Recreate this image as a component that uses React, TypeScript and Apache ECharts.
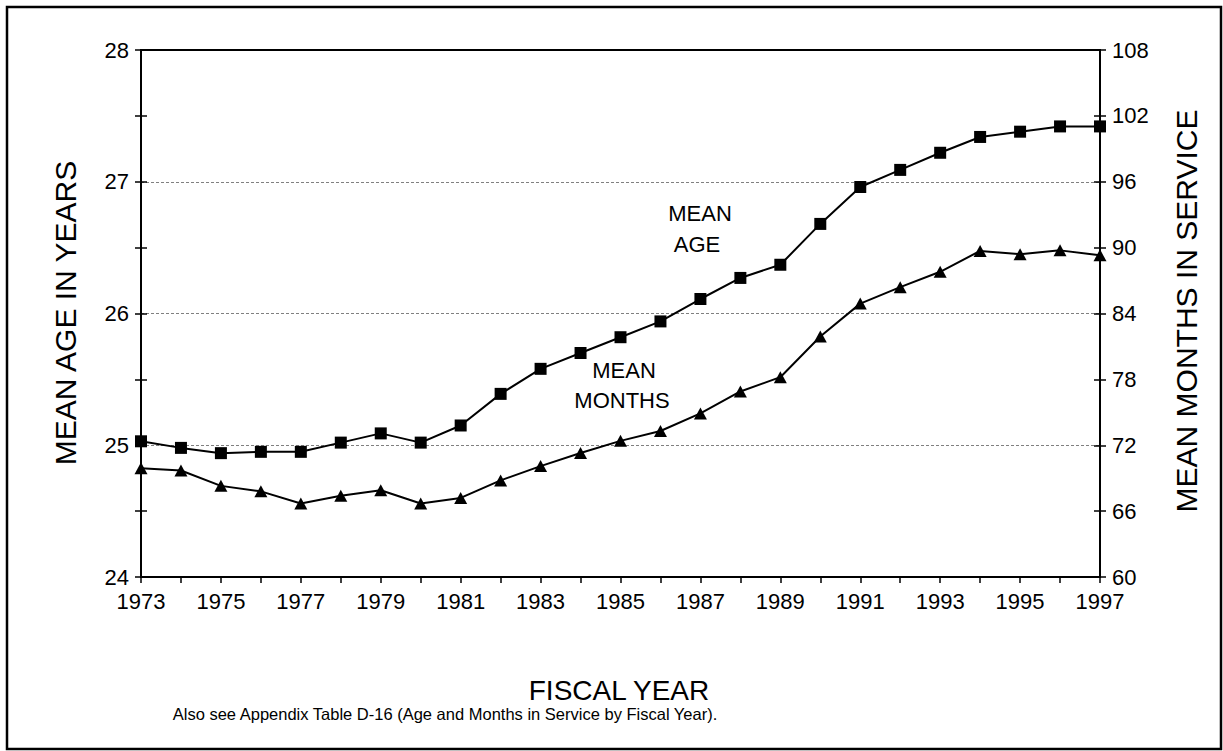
import React, { useEffect, useRef } from "react";
import * as echarts from "echarts";

const years = [1973, 1974, 1975, 1976, 1977, 1978, 1979, 1980, 1981, 1982, 1983, 1984, 1985, 1986, 1987, 1988, 1989, 1990, 1991, 1992, 1993, 1994, 1995, 1996, 1997];
const meanAge = [25.03, 24.98, 24.94, 24.95, 24.95, 25.02, 25.09, 25.02, 25.15, 25.39, 25.58, 25.7, 25.82, 25.94, 26.11, 26.27, 26.37, 26.68, 26.96, 27.09, 27.22, 27.34, 27.38, 27.42, 27.42];
const meanMonths = [69.9, 69.7, 68.3, 67.8, 66.7, 67.4, 67.9, 66.7, 67.2, 68.8, 70.1, 71.3, 72.4, 73.3, 74.9, 76.9, 78.2, 81.9, 84.9, 86.4, 87.8, 89.7, 89.4, 89.75, 89.3];

const FONT = "'Liberation Sans', Arial, Helvetica, sans-serif";

export default function App() {
  const ref = useRef<HTMLDivElement>(null);
  useEffect(() => {
    if (!ref.current) return;
    const chart = echarts.init(ref.current, null, { renderer: "svg" });
    const leftBase = {
      type: "value",
      position: "left",
      min: 24,
      max: 28,
      interval: 1,
      axisLine: { show: true, lineStyle: { color: "#000", width: 2 } },
    };
    const rightBase = {
      type: "value",
      position: "right",
      min: 60,
      max: 108,
      interval: 6,
      axisLine: { show: true, lineStyle: { color: "#000", width: 2 } },
    };
    chart.setOption({
      animation: false,
      backgroundColor: "#fff",
      textStyle: { fontFamily: FONT },
      grid: {
        left: 141,
        right: 123,
        top: 50,
        bottom: 174,
        show: true,
        borderColor: "#000",
        borderWidth: 2,
        backgroundColor: "transparent",
      },
      xAxis: {
        type: "value",
        min: 1973,
        max: 1997,
        interval: 1,
        axisLine: { show: true, lineStyle: { color: "#000", width: 2 } },
        axisTick: { show: true, length: 6, lineStyle: { color: "#000", width: 1.5 } },
        axisLabel: {
          color: "#000",
          fontSize: 22,
          fontFamily: FONT,
          margin: 13,
          formatter: (v: number) => ((v - 1973) % 2 === 0 ? String(v) : ""),
        },
        splitLine: { show: false },
      },
      yAxis: [
        {
          ...leftBase,
          axisTick: { show: true, length: 6, lineStyle: { color: "#000", width: 1.5 } },
          minorTick: { show: true, splitNumber: 2, length: 6, lineStyle: { color: "#000", width: 1.5 } },
          axisLabel: { color: "#000", fontSize: 22, fontFamily: FONT, margin: 12 },
          splitLine: {
            show: true,
            showMinLine: false,
            showMaxLine: false,
            lineStyle: { color: "#808080", width: 1, type: [3, 2] },
          },
        },
        {
          ...rightBase,
          axisTick: { show: true, length: 6, lineStyle: { color: "#000", width: 1.5 } },
          axisLabel: { color: "#000", fontSize: 22, fontFamily: FONT, margin: 12 },
          splitLine: { show: false },
        },
        {
          ...leftBase,
          axisTick: { show: true, inside: true, length: 6, lineStyle: { color: "#000", width: 1.5 } },
          minorTick: { show: true, splitNumber: 2, length: 6, lineStyle: { color: "#000", width: 1.5 } },
          axisLabel: { show: false },
          splitLine: { show: false },
        },
        {
          ...rightBase,
          axisTick: { show: true, inside: true, length: 6, lineStyle: { color: "#000", width: 1.5 } },
          axisLabel: { show: false },
          splitLine: { show: false },
        },
      ],
      series: [
        {
          name: "Mean Age",
          type: "line",
          yAxisIndex: 0,
          data: years.map((y, i) => [y, meanAge[i]]),
          symbol: "rect",
          symbolSize: 12,
          lineStyle: { color: "#000", width: 2 },
          itemStyle: { color: "#000" },
          z: 5,
        },
        {
          name: "Mean Months",
          type: "line",
          yAxisIndex: 1,
          data: years.map((y, i) => [y, meanMonths[i]]),
          symbol: "triangle",
          symbolSize: [13, 12],
          lineStyle: { color: "#000", width: 2 },
          itemStyle: { color: "#000" },
          z: 5,
        },
      ],
      graphic: [
        {
          type: "rect",
          shape: { x: 7, y: 7, width: 1214, height: 742 },
          style: { fill: "none", stroke: "#000", lineWidth: 2.5 },
          silent: true,
        },
        {
          type: "text",
          x: 65,
          y: 313,
          rotation: Math.PI / 2,
          style: { text: "MEAN AGE IN YEARS", fontSize: 30, fontFamily: FONT, fill: "#000", align: "center", verticalAlign: "middle" },
        },
        {
          type: "text",
          x: 1186,
          y: 311,
          rotation: Math.PI / 2,
          style: { text: "MEAN MONTHS IN SERVICE", fontSize: 30, fontFamily: FONT, fill: "#000", align: "center", verticalAlign: "middle" },
        },
        {
          type: "text",
          x: 619,
          y: 690,
          style: { text: "FISCAL YEAR", fontSize: 28, fontFamily: FONT, fill: "#000", align: "center", verticalAlign: "middle" },
        },
        {
          type: "text",
          x: 445,
          y: 714,
          style: { text: "Also see Appendix Table D-16 (Age and Months in Service by Fiscal Year).", fontSize: 16.5, fontFamily: FONT, fill: "#000", align: "center", verticalAlign: "middle" },
        },
        {
          type: "text",
          x: 700,
          y: 213,
          style: { text: "MEAN", fontSize: 22, fontFamily: FONT, fill: "#000", align: "center", verticalAlign: "middle" },
        },
        {
          type: "text",
          x: 697,
          y: 244,
          style: { text: "AGE", fontSize: 22, fontFamily: FONT, fill: "#000", align: "center", verticalAlign: "middle" },
        },
        {
          type: "text",
          x: 624,
          y: 370,
          style: { text: "MEAN", fontSize: 22, fontFamily: FONT, fill: "#000", align: "center", verticalAlign: "middle" },
        },
        {
          type: "text",
          x: 622,
          y: 400,
          style: { text: "MONTHS", fontSize: 22, fontFamily: FONT, fill: "#000", align: "center", verticalAlign: "middle" },
        },
      ],
    });
    return () => chart.dispose();
  }, []);
  return (
    <div
      ref={ref}
      style={{ position: "absolute", left: 0, top: 0, width: 1223, height: 751, background: "#fff" }}
    />
  );
}
